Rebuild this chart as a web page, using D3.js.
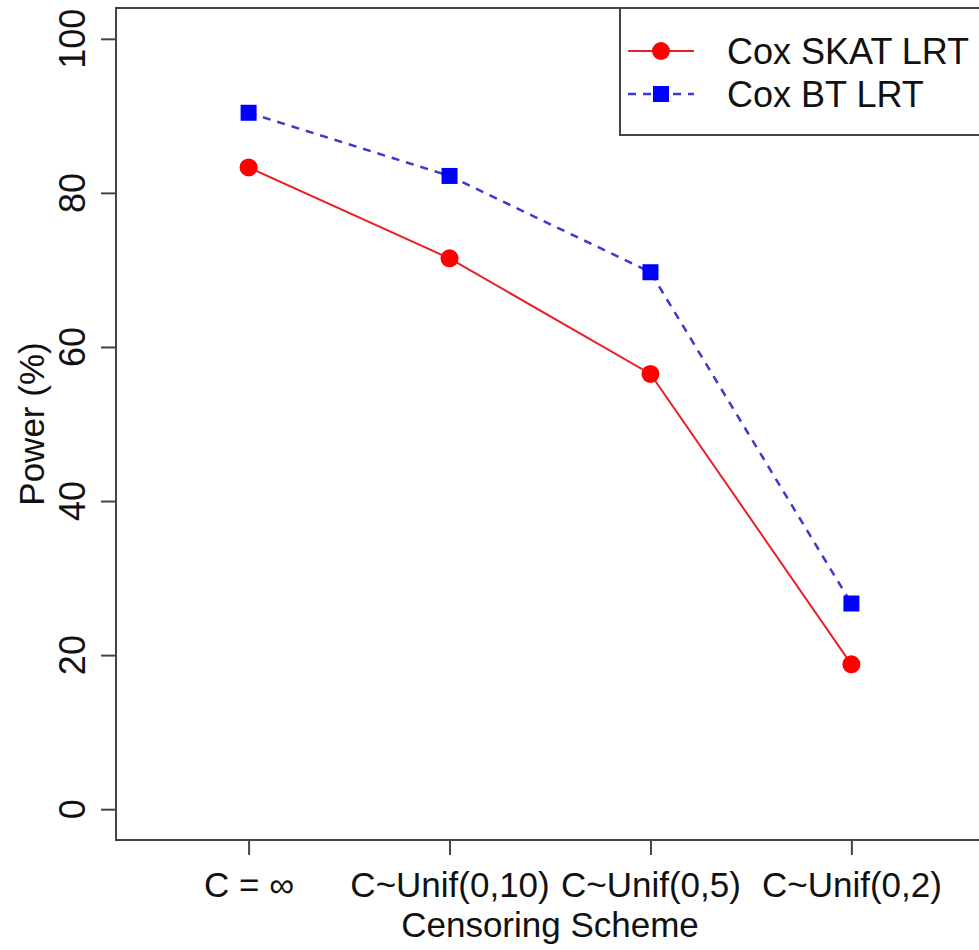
<!DOCTYPE html>
<html lang="en">
<head>
<meta charset="UTF-8">
<title>Power by censoring scheme</title>
<script src="https://cdn.jsdelivr.net/npm/d3@7"></script>
<style>
    body { margin: 0; background: #fff; }
    text { font-family: "Liberation Sans", Arial, sans-serif; fill: #111; }
</style>
</head>
<body>
<svg width="979" height="950"></svg>
<script>
    // data
    var schemes = ["C = \u221E", "C~Unif(0,10)", "C~Unif(0,5)", "C~Unif(0,2)"];
    var skatLRT = [83.3, 71.5, 56.5, 18.8];
    var btLRT = [90.4, 82.2, 69.7, 26.7];
    var yTicks = [0, 20, 40, 60, 80, 100];
    var seriesNames = ["Cox SKAT LRT", "Cox BT LRT"];

    var svg = d3.select("svg");
    var mLeft = 116, mRight = 984, mTop = 8, mBottom = 840;

    // like R: xlim c(0.5,4.5), ylim c(0,100), each padded 4%
    var x = d3.scaleLinear().domain([0.34, 4.66]).range([mLeft, mRight]);
    var y = d3.scaleLinear().domain([-4, 104]).range([mBottom, mTop]);

    var axisCol = "#444";
    var fontSize = "35px";

    // y axis
    var yAxis = svg.append("g")
        .attr("transform", "translate(" + mLeft + ",0)")
        .call(d3.axisLeft(y).tickValues(yTicks).tickSize(15));
    yAxis.select(".domain").remove();
    yAxis.selectAll("line").attr("stroke", axisCol).attr("stroke-width", 2);
    yAxis.selectAll("text").remove();
    svg.selectAll(".ylab").data(yTicks).enter().append("text")
        .attr("transform", function (d) { return "translate(85," + y(d) + ") rotate(-90)"; })
        .attr("text-anchor", "middle")
        .style("font-size", "36px")
        .text(function (d) { return d; });

    // x axis
    var xAxis = svg.append("g")
        .attr("transform", "translate(0," + mBottom + ")")
        .call(d3.axisBottom(x).tickValues([1, 2, 3, 4]).tickSize(15).tickFormat(function (d) { return schemes[d - 1]; }));
    xAxis.select(".domain").remove();
    xAxis.selectAll("line").attr("stroke", axisCol).attr("stroke-width", 2);
    xAxis.selectAll("text")
        .attr("y", 57).attr("dy", null)
        .attr("fill", "#111")
        .attr("font-size", null).attr("font-family", null)
        .style("font-size", fontSize);

    // plot box
    svg.append("rect")
        .attr("x", mLeft).attr("y", mTop)
        .attr("width", mRight - mLeft).attr("height", mBottom - mTop)
        .attr("fill", "none").attr("stroke", axisCol).attr("stroke-width", 2);

    // titles
    svg.append("text")
        .attr("x", (mLeft + mRight) / 2).attr("y", 937)
        .attr("text-anchor", "middle")
        .style("font-size", fontSize)
        .text("Censoring Scheme");
    svg.append("text")
        .attr("transform", "translate(44," + (mTop + mBottom) / 2 + ") rotate(-90)")
        .attr("text-anchor", "middle")
        .style("font-size", fontSize)
        .text("Power (%)");

    var line = d3.line()
        .x(function (d, i) { return x(i + 1); })
        .y(function (d) { return y(d); });

    // Cox SKAT LRT, red solid with dots
    svg.append("path").datum(skatLRT)
        .attr("d", line).attr("fill", "none")
        .attr("stroke", "#e8202a").attr("stroke-width", 2);
    svg.selectAll(".dot").data(skatLRT).enter().append("circle")
        .attr("cx", function (d, i) { return x(i + 1); })
        .attr("cy", function (d) { return y(d); })
        .attr("r", 9).attr("fill", "#ff0000");

    // Cox BT LRT, blue dashed with squares
    svg.append("path").datum(btLRT)
        .attr("d", line).attr("fill", "none")
        .attr("stroke", "#3a3ad0").attr("stroke-width", 2.5)
        .attr("stroke-dasharray", "8,7");
    svg.selectAll(".sq").data(btLRT).enter().append("rect")
        .attr("x", function (d, i) { return x(i + 1) - 8; })
        .attr("y", function (d) { return y(d) - 8; })
        .attr("width", 16).attr("height", 16).attr("fill", "#0000ff");

    // legend
    var lg = svg.append("g");
    lg.append("rect")
        .attr("x", 620).attr("y", mTop).attr("width", 400).attr("height", 127)
        .attr("fill", "#fff").attr("stroke", axisCol).attr("stroke-width", 2);
    var rows = [51, 94];
    lg.append("line").attr("x1", 628).attr("x2", 694).attr("y1", rows[0]).attr("y2", rows[0])
        .attr("stroke", "#e8202a").attr("stroke-width", 2);
    lg.append("circle").attr("cx", 661).attr("cy", rows[0]).attr("r", 9).attr("fill", "#ff0000");
    lg.append("line").attr("x1", 628).attr("x2", 694).attr("y1", rows[1]).attr("y2", rows[1])
        .attr("stroke", "#3a3ad0").attr("stroke-width", 2.5).attr("stroke-dasharray", "8,7");
    lg.append("rect").attr("x", 653).attr("y", rows[1] - 8).attr("width", 16).attr("height", 16).attr("fill", "#0000ff");
    lg.selectAll(".lt").data(seriesNames).enter().append("text")
        .attr("x", 727).attr("y", function (d, i) { return rows[i] + 13; })
        .style("font-size", "36px")
        .text(function (d) { return d; });
</script>
</body>
</html>
